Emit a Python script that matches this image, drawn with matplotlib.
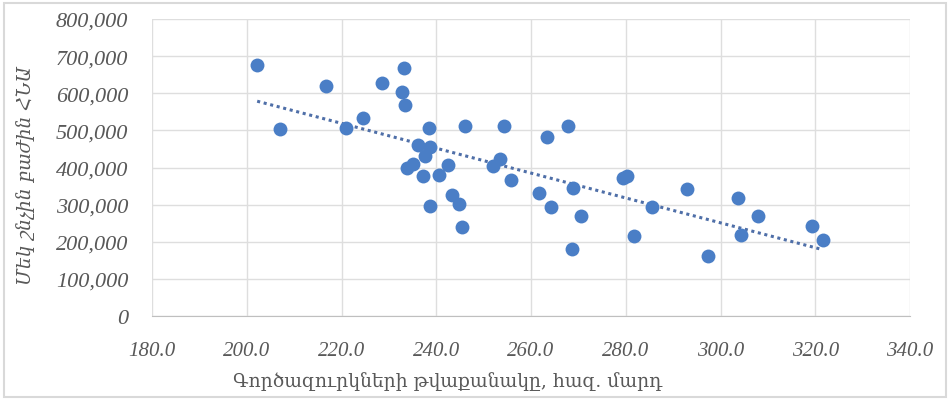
import numpy as np
import matplotlib
matplotlib.use("Agg")
import matplotlib.pyplot as plt
from matplotlib.patches import Rectangle
from matplotlib.ticker import FuncFormatter, MultipleLocator

# unemployed, thousand people
unemployed = [202.2, 207.0, 216.7, 220.9, 224.5, 228.5, 233.2, 232.8, 233.4, 238.5,
              246.1, 254.3, 263.4, 267.8, 236.1, 238.7, 237.6, 235.1, 233.8, 237.2,
              240.6, 242.5, 243.3, 244.8, 238.7, 245.4, 252.0, 253.5, 255.8, 261.7,
              264.2, 268.9, 270.6, 268.7, 279.4, 280.3, 281.7, 285.5, 292.9, 297.4,
              303.7, 304.3, 307.9, 319.3, 321.6]
# GDP per capita
gdp_per_capita = [676000, 504000, 620000, 507000, 534000, 627000, 668000, 604000, 569000, 507000,
                  512000, 512000, 482000, 512000, 461000, 455000, 431000, 410000, 399000, 377000,
                  380000, 407000, 326000, 302000, 297000, 240000, 404000, 423000, 367000, 332000,
                  294000, 345000, 270000, 180000, 372000, 378000, 216000, 294000, 342000, 162000,
                  318000, 218000, 270000, 243000, 205000]

x_label = "Գործազուրկների թվաքանակը, հազ. մարդ"
y_label = "Մեկ շնչին բաժին ՀՆԱ"

blue = "#4A7EC6"
text_grey = "#595959"
tick_font = ["Liberation Serif", "DejaVu Serif"]

fig = plt.figure(figsize=(9.5, 4.02), dpi=100)
ax = fig.add_axes([152 / 950, 1 - 317 / 402, (910 - 152) / 950, (317 - 20) / 402])

ax.scatter(unemployed, gdp_per_capita, s=100, color=blue, zorder=3, linewidths=0)

# linear trendline over the data range
k, b = np.polyfit(unemployed, gdp_per_capita, 1)
xs = np.array([min(unemployed), max(unemployed)])
ax.plot(xs, k * xs + b, linestyle=(0, (1, 1.2)), color="#4F6FA8", linewidth=2.2, zorder=2)

ax.set_xlim(180, 340)
ax.set_ylim(0, 800000)
ax.xaxis.set_major_locator(MultipleLocator(20))
ax.yaxis.set_major_locator(MultipleLocator(100000))
ax.xaxis.set_major_formatter(FuncFormatter(lambda v, p: f"{v:.1f}"))
ax.yaxis.set_major_formatter(FuncFormatter(lambda v, p: f"{int(v):,}"))

ax.grid(True, color="#DEDEDE", linewidth=1.0)
ax.set_axisbelow(True)
for side in ["top", "right", "left"]:
    ax.spines[side].set_visible(False)
ax.spines["bottom"].set_color("#BFBFBF")
ax.tick_params(axis="y", length=0, pad=17)
ax.tick_params(axis="x", length=0, pad=18)

for lbl in ax.get_yticklabels():
    lbl.set_family(tick_font)
    lbl.set_style("italic")
    lbl.set_fontsize(16)
    lbl.set_color(text_grey)
for lbl in ax.get_xticklabels():
    lbl.set_family(tick_font)
    lbl.set_style("italic")
    lbl.set_fontsize(15)
    lbl.set_color(text_grey)

ax.set_xlabel(x_label, family=["DejaVu Serif"], fontsize=13.5, color=text_grey, va="center")
ax.set_ylabel(y_label, family=["DejaVu Serif"], style="italic", fontsize=13.5, color=text_grey, va="center")
ax.xaxis.set_label_coords((448 - 152) / 758, -(382 - 317) / 297)
ax.yaxis.set_label_coords(-(152 - 26) / 758, (317 - 176) / 297)

# chart area border
fig.patches.append(Rectangle((4 / 950, 4 / 402), 942 / 950, 394 / 402, transform=fig.transFigure,
                             fill=False, edgecolor="#D9D9D9", linewidth=1.5))

fig.savefig("out.png", dpi=100)
